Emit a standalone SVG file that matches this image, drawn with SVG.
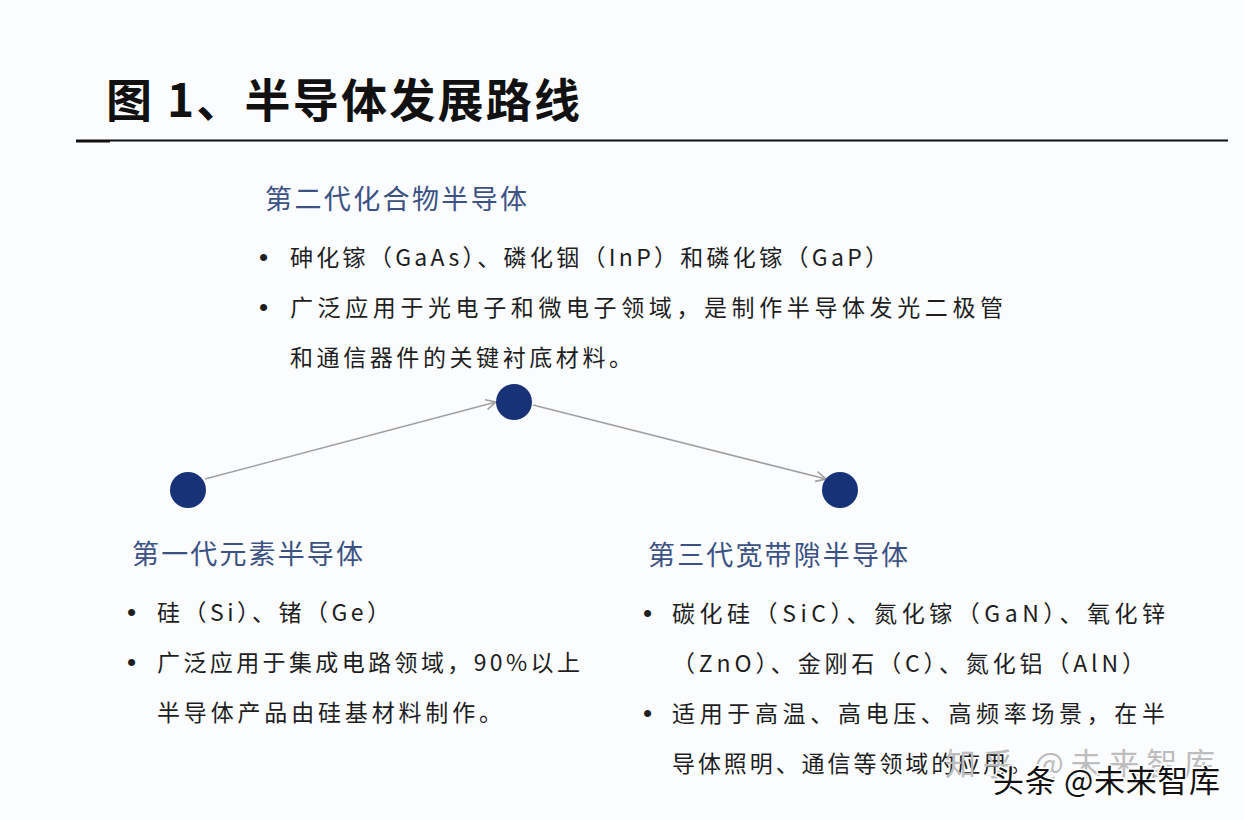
<svg xmlns="http://www.w3.org/2000/svg" width="1244" height="820" viewBox="0 0 1244 820">
<defs>
<style>
.title{font-family:"Noto Sans CJK SC","Noto Sans",sans-serif;font-size:46px;font-weight:700;fill:#111;}
.head{font-family:"Noto Sans CJK SC","Noto Sans",sans-serif;font-size:27px;fill:#3b5283;}
.body{font-family:"Noto Sans CJK SC","Noto Sans",sans-serif;font-size:23px;fill:#1e1e1e;}
.bullet{font-family:"Liberation Sans",sans-serif;font-size:26px;fill:#1e1e1e;}
.node{fill:#173276;}
.conn{stroke:#a0a0a0;stroke-width:1.6;fill:none;}
.wm1{font-family:"Noto Sans CJK SC",sans-serif;font-size:31px;fill:#bdbdbd;}
.wm2{font-family:"Noto Sans CJK SC",sans-serif;font-size:31px;fill:#111;stroke:#fff;stroke-width:3px;paint-order:stroke;}
</style>
<marker id="arr" viewBox="0 0 12 12" refX="11" refY="6" markerWidth="12" markerHeight="12" markerUnits="userSpaceOnUse" orient="auto">
<path d="M1,1 L11,6 L1,11" fill="none" stroke="#a0a0a0" stroke-width="1.6"/>
</marker>
</defs>
<rect width="1244" height="820" fill="#fbfcfe"/>
<g id="title">
<text class="title" x="106" y="117" textLength="474" lengthAdjust="spacing">图 1、半导体发展路线</text>
<line x1="110" y1="140.5" x2="1228" y2="140.5" stroke="#111" stroke-width="1.8"/>
<line x1="76" y1="141" x2="110" y2="141" stroke="#111" stroke-width="3"/>
</g>
<g id="connectors">
<line class="conn" x1="205" y1="479" x2="496" y2="402" marker-end="url(#arr)"/>
<line class="conn" x1="533" y1="405" x2="826" y2="479" marker-end="url(#arr)"/>
</g>
<g id="node-gen1">
<circle class="node" cx="188" cy="490" r="18"/>
<text class="head" x="132" y="564" textLength="231" lengthAdjust="spacing">第一代元素半导体</text>
<text class="bullet" x="127" y="621">•</text>
<text class="body" x="157" y="621" textLength="233" lengthAdjust="spacing">硅（Si）、锗（Ge）</text>
<text class="bullet" x="127" y="671">•</text>
<text class="body" x="157" y="671" textLength="423" lengthAdjust="spacing">广泛应用于集成电路领域，90%以上</text>
<text class="body" x="157" y="721" textLength="345" lengthAdjust="spacing">半导体产品由硅基材料制作。</text>
</g>
<g id="node-gen2">
<circle class="node" cx="514" cy="402" r="18"/>
<text class="head" x="265" y="209" textLength="262" lengthAdjust="spacing">第二代化合物半导体</text>
<text class="bullet" x="259" y="266">•</text>
<text class="body" x="290" y="266" textLength="598" lengthAdjust="spacing">砷化镓（GaAs）、磷化铟（InP）和磷化镓（GaP）</text>
<text class="bullet" x="259" y="316">•</text>
<text class="body" x="290" y="316" textLength="713" lengthAdjust="spacing">广泛应用于光电子和微电子领域，是制作半导体发光二极管</text>
<text class="body" x="290" y="366" textLength="342" lengthAdjust="spacing">和通信器件的关键衬底材料。</text>
</g>
<g id="node-gen3">
<circle class="node" cx="840" cy="490" r="18"/>
<text class="head" x="648" y="565" textLength="260" lengthAdjust="spacing">第三代宽带隙半导体</text>
<text class="bullet" x="643" y="622">•</text>
<text class="body" x="672" y="622" textLength="493" lengthAdjust="spacing">碳化硅（SiC）、氮化镓（GaN）、氧化锌</text>
<text class="body" x="672" y="672" textLength="473" lengthAdjust="spacing">（ZnO）、金刚石（C）、氮化铝（AlN）</text>
<text class="bullet" x="643" y="722">•</text>
<text class="body" x="672" y="722" textLength="493" lengthAdjust="spacing">适用于高温、高电压、高频率场景，在半</text>
<text class="body" x="672" y="772" textLength="360" lengthAdjust="spacing">导体照明、通信等领域的应用。</text>
</g>
<g id="watermark">
<text class="wm1" x="945" y="775" textLength="270" lengthAdjust="spacing">知乎 @未来智库</text>
<text class="wm2" x="993" y="792" textLength="227" lengthAdjust="spacing">头条 @未来智库</text>
</g>
</svg>
